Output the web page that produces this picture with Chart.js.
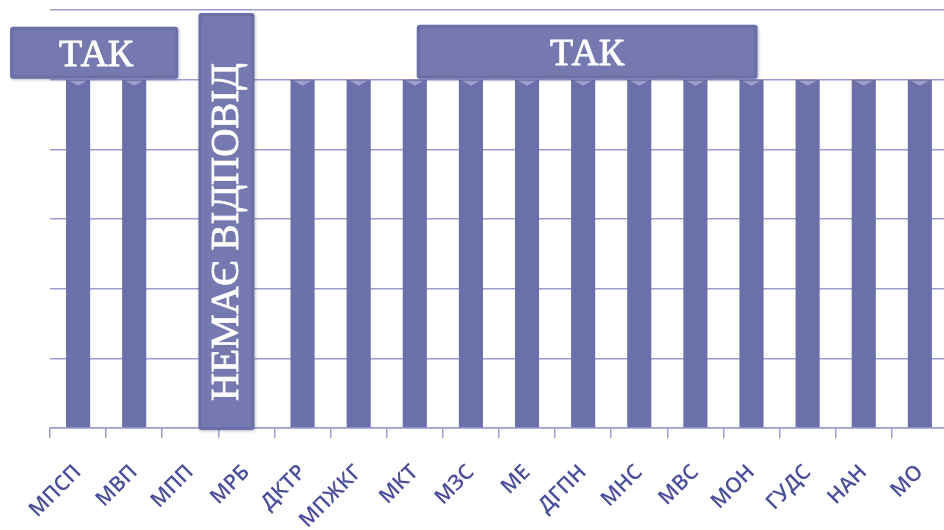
<!DOCTYPE html>
<html>
<head>
<meta charset="utf-8">
<script src="https://cdn.jsdelivr.net/npm/chart.js@4/dist/chart.umd.min.js"></script>
<style>
html,body{margin:0;padding:0;background:#fff;overflow:hidden;}
#wrap{position:relative;width:960px;height:530px;}
</style>
</head>
<body>
<div id="wrap"><canvas id="c"></canvas></div>
<script>
const categories = ['МПСП','МВП','МПП','МРБ','ДКТР','МПЖКГ','МКТ','МЗС','МЕ','ДГПН','МНС','МВС','МОН','ГУДС','НАН','МО'];
const values = [1,1,0,0,1,1,1,1,1,1,1,1,1,1,1,1];
const yTicks = [0,0.2,0.4,0.6,0.8,1,1.2];
const labelTak = 'ТАК';
const labelNoAnswer = 'НЕМАЄ ВІДПОВІД';

const gridColor = '#9a9dd0';
const barColor = '#6c70aa';
const boxColor = '#7579b0';

function roundRect(ctx,x,y,w,h,r){
  ctx.beginPath();
  ctx.moveTo(x+r,y);ctx.lineTo(x+w-r,y);ctx.quadraticCurveTo(x+w,y,x+w,y+r);
  ctx.lineTo(x+w,y+h-r);ctx.quadraticCurveTo(x+w,y+h,x+w-r,y+h);
  ctx.lineTo(x+r,y+h);ctx.quadraticCurveTo(x,y+h,x,y+h-r);
  ctx.lineTo(x,y+r);ctx.quadraticCurveTo(x,y,x+r,y);ctx.closePath();
}
function drawBox(ctx,x1,y1,x2,y2){
  ctx.save();
  ctx.shadowColor='rgba(60,60,110,0.35)';ctx.shadowBlur=3;ctx.shadowOffsetX=1;ctx.shadowOffsetY=1;
  roundRect(ctx,x1,y1,x2-x1,y2-y1,3);
  ctx.fillStyle='#6b6fa8';ctx.fill();
  ctx.restore();
  ctx.save();
  roundRect(ctx,x1+3,y1+3,x2-x1-6,y2-y1-6,2);
  ctx.fillStyle=boxColor;ctx.fill();
  ctx.restore();
}
const serif='"Liberation Serif","DejaVu Serif",serif';
function boldText(ctx,t,x,y){
  ctx.fillStyle='#fff';ctx.strokeStyle='#fff';ctx.lineWidth=0.8;ctx.lineJoin='round';
  ctx.fillText(t,x,y);ctx.strokeText(t,x,y);
}

const annotationPlugin = {
  id:'boxes',
  afterDatasetsDraw(chart){
    const ctx=chart.ctx, xs=chart.scales.x, ys=chart.scales.y;
    const yOne=ys.getPixelForValue(1), yTop=ys.getPixelForValue(1.2), yZero=ys.getPixelForValue(0);
    // box 1
    let l=xs.getPixelForValue(0)-68, r=xs.getPixelForValue(1)+44;
    drawBox(ctx,l,yOne-53,r,yOne-1);
    ctx.save();ctx.font='38px '+serif;ctx.textAlign='center';ctx.textBaseline='alphabetic';
    boldText(ctx,labelTak,(l+r)/2+2,yOne-14);ctx.restore();
    // box 3
    l=xs.getPixelForValue(6)+2; r=xs.getPixelForValue(12)+6;
    drawBox(ctx,l,yOne-55,r,yOne-1);
    ctx.save();ctx.font='38px '+serif;ctx.textAlign='center';ctx.textBaseline='alphabetic';
    boldText(ctx,labelTak,(l+r)/2,yOne-15);ctx.restore();
    // box 2 vertical
    l=xs.getPixelForValue(3)-48; r=xs.getPixelForValue(3)+8;
    drawBox(ctx,l,yTop+3,r,yZero+2);
    ctx.save();ctx.font='39px '+serif;ctx.textAlign='center';ctx.textBaseline='alphabetic';
    ctx.translate((l+r)/2+12,(yTop+yZero)/2+13);ctx.rotate(-Math.PI/2);
    boldText(ctx,labelNoAnswer,0,0);ctx.restore();
  }
};

const barShade = {
  id:'barShade',
  afterDatasetsDraw(chart){
    const ctx=chart.ctx;
    chart.getDatasetMeta(0).data.forEach((b,i)=>{
      if(!values[i]) return;
      const w=b.width, x=b.x-w/2, y=b.y;
      ctx.save();
      ctx.fillStyle='rgba(200,200,230,0.55)';
      ctx.beginPath();ctx.moveTo(x+3,y+1);ctx.lineTo(x+w-3,y+1);ctx.lineTo(b.x,y+6);ctx.closePath();ctx.fill();
      ctx.restore();
    });
  }
};

new Chart(document.getElementById('c'),{
  type:'bar',
  data:{labels:categories,datasets:[{data:values,backgroundColor:barColor,borderWidth:0,categoryPercentage:1,barPercentage:0.43}]},
  options:{
    responsive:true,maintainAspectRatio:false,animation:false,
    layout:{padding:{left:50,right:10,top:10,bottom:0}},
    plugins:{legend:{display:false},tooltip:{enabled:false}},
    scales:{
      x:{
        grid:{offset:true,drawOnChartArea:false,drawTicks:true,tickLength:10,color:gridColor,lineWidth:1.5},
        border:{display:true,color:gridColor,width:1.5},
        ticks:{color:'#4a4f9c',font:{family:'"Open Sans"',size:21,weight:'600'},minRotation:45,maxRotation:45,padding:22},
        afterFit(a){a.height=102;}
      },
      y:{
        min:0,max:1.2,
        afterBuildTicks(a){a.ticks=yTicks.map(v=>({value:v}));},
        ticks:{display:false},
        grid:{color:gridColor,lineWidth:1.5,drawTicks:false},
        border:{display:false}
      }
    }
  },
  plugins:[barShade,annotationPlugin]
});
</script>
</body>
</html>
